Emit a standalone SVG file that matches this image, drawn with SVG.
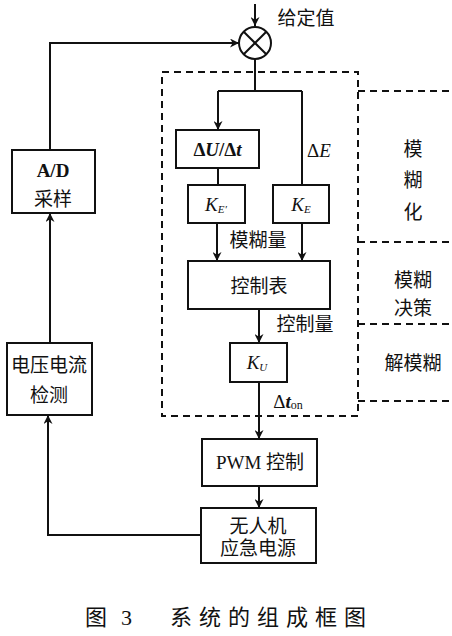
<svg xmlns="http://www.w3.org/2000/svg" width="452" height="636" viewBox="0 0 452 636">
<defs>
<marker id="ah" viewBox="0 0 10 10" refX="10" refY="5" markerWidth="9" markerHeight="9" markerUnits="userSpaceOnUse" orient="auto">
<path d="M0,0 L10,5 L0,10 L3,5 Z" fill="#111"/>
</marker>
</defs>
<style>
.box{fill:#fff;stroke:#111;stroke-width:2}
.ln{fill:none;stroke:#111;stroke-width:2}
.ar{fill:none;stroke:#111;stroke-width:2;marker-end:url(#ah)}
.dash{fill:none;stroke:#111;stroke-width:2;stroke-dasharray:7,5}
.t{font-family:"Liberation Serif","Noto Sans CJK SC",serif;font-size:19px;fill:#111;text-anchor:middle;dominant-baseline:central}
.m{font-family:"Liberation Serif",serif;font-size:19px;fill:#111;text-anchor:middle;dominant-baseline:central}
.cap{font-family:"Liberation Serif","Noto Sans CJK SC",serif;font-size:22px;fill:#111;dominant-baseline:central}
</style>
<g id="connectors">
<line class="ar" x1="255" y1="4" x2="255" y2="26"/>
<polyline class="ar" points="50,150 50,43 239,43"/>
<line class="ln" x1="255" y1="59" x2="255" y2="91"/>
<polyline class="ln" points="218,91 302,91"/>
<line class="ar" x1="218" y1="91" x2="218" y2="130"/>
<line class="ln" x1="302" y1="91" x2="302" y2="185"/>
<line class="ln" x1="218" y1="168" x2="218" y2="185"/>
<line class="ar" x1="217" y1="223" x2="217" y2="261"/>
<line class="ar" x1="302" y1="223" x2="302" y2="261"/>
<line class="ar" x1="259" y1="309" x2="259" y2="343"/>
<line class="ar" x1="259" y1="382" x2="259" y2="439"/>
<line class="ar" x1="259" y1="486" x2="259" y2="508"/>
<polyline class="ar" points="201,535 48,535 48,415"/>
<line class="ar" x1="50" y1="343" x2="50" y2="213"/>
</g>
<g id="fuzzy-region">
<rect class="dash" x="162" y="72" width="196" height="344"/>
<line class="dash" x1="358" y1="91" x2="452" y2="91"/>
<line class="dash" x1="358" y1="242" x2="452" y2="242"/>
<line class="dash" x1="358" y1="324" x2="452" y2="324"/>
<line class="dash" x1="358" y1="401" x2="452" y2="401"/>
<text class="t" x="413" y="149">模</text>
<text class="t" x="413" y="180">糊</text>
<text class="t" x="413" y="212">化</text>
<text class="t" x="413" y="280">模糊</text>
<text class="t" x="413" y="308">决策</text>
<text class="t" x="413" y="363">解模糊</text>
</g>
<g id="sum">
<circle cx="255" cy="43" r="16" fill="#fff" stroke="#111" stroke-width="2"/>
<line class="ln" x1="243.7" y1="31.7" x2="266.3" y2="54.3"/>
<line class="ln" x1="266.3" y1="31.7" x2="243.7" y2="54.3"/>
<text class="t" x="306" y="18">给定值</text>
</g>
<g id="dudt">
<rect class="box" x="176" y="130" width="83" height="38"/>
<text class="m" x="217.5" y="149" font-weight="bold"><tspan>Δ</tspan><tspan font-style="italic">U</tspan><tspan>/Δ</tspan><tspan font-style="italic">t</tspan></text>
</g>
<text class="m" x="319" y="150">Δ<tspan font-style="italic">E</tspan></text>
<g id="ke1">
<rect class="box" x="188" y="185" width="57" height="38"/>
<text class="m" x="216" y="204" font-style="italic" font-size="20">K<tspan font-size="11" dy="5">E′</tspan></text>
</g>
<g id="ke">
<rect class="box" x="273" y="185" width="56" height="38"/>
<text class="m" x="301" y="204" font-style="italic" font-size="20">K<tspan font-size="11" dy="5">E</tspan></text>
</g>
<text class="t" x="258" y="240">模糊量</text>
<g id="table">
<rect class="box" x="188" y="261" width="142" height="48"/>
<text class="t" x="259" y="286">控制表</text>
</g>
<text class="t" x="305" y="324">控制量</text>
<g id="ku">
<rect class="box" x="230" y="343" width="57" height="39"/>
<text class="m" x="257" y="362" font-style="italic" font-size="20">K<tspan font-size="11" dy="5">U</tspan></text>
</g>
<text class="m" x="288" y="401">Δ<tspan font-style="italic" font-weight="bold">t</tspan><tspan font-size="12" dy="4">on</tspan></text>
<g id="pwm">
<rect class="box" x="202" y="439" width="115" height="47"/>
<text class="t" x="260" y="462">PWM 控制</text>
</g>
<g id="power">
<rect class="box" x="201" y="508" width="115" height="55"/>
<text class="t" x="258" y="526">无人机</text>
<text class="t" x="258" y="548">应急电源</text>
</g>
<g id="ad">
<rect class="box" x="12" y="150" width="83" height="63"/>
<text class="m" x="53" y="170" font-weight="bold">A/D</text>
<text class="t" x="53" y="199">采样</text>
</g>
<g id="detect">
<rect class="box" x="7" y="343" width="85" height="72"/>
<text class="t" x="49" y="365" font-size="20">电压电流</text>
<text class="t" x="49" y="395" font-size="20">检测</text>
</g>
<text class="cap" x="85" y="617">图</text>
<text class="cap" x="121" y="617">3</text>
<text class="cap" x="170" y="617" letter-spacing="7">系统的组成框图</text>
</svg>
